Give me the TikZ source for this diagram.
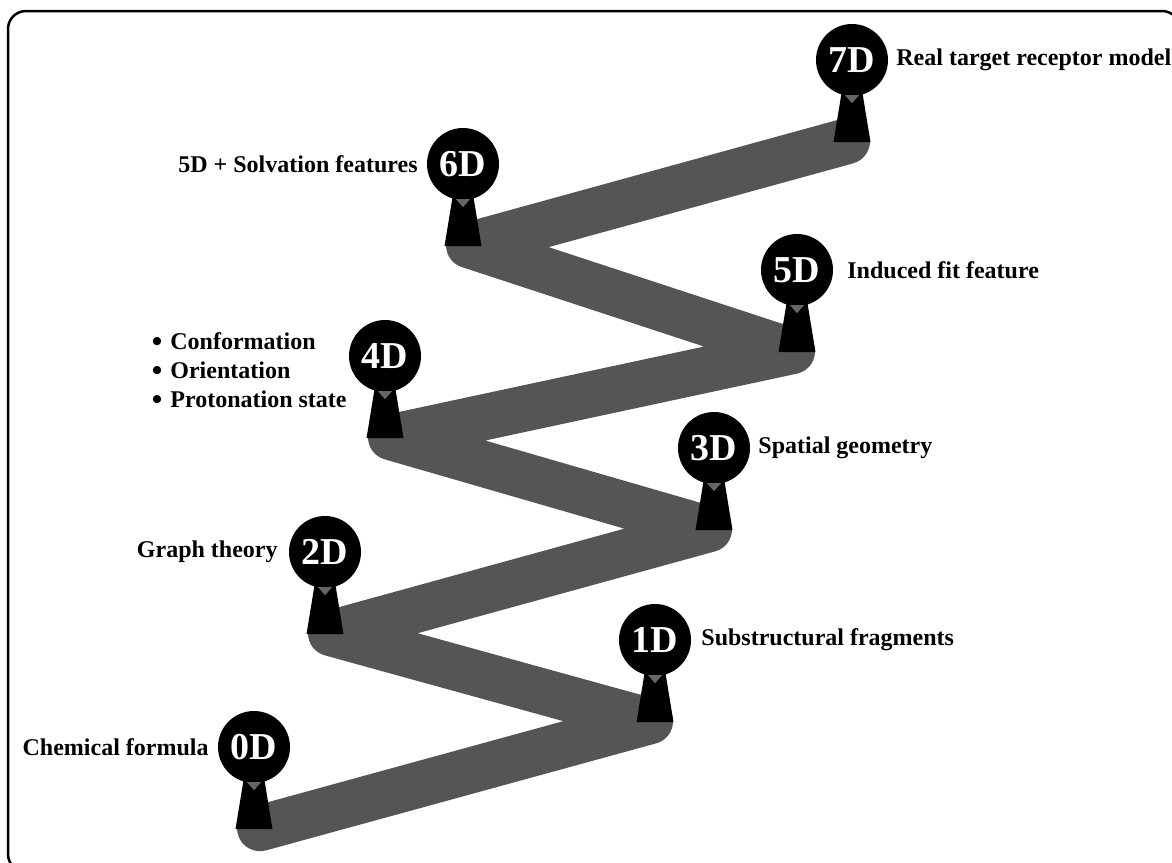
\documentclass[tikz,border=0pt]{standalone}
\usepackage{fontspec}
\setmainfont{Liberation Serif}
\usepackage{xcolor}
\usetikzlibrary{positioning, backgrounds}
\definecolor{bandgray}{RGB}{85,85,85}
\newcommand{\dotitem}{\raisebox{-2pt}{\fontsize{30}{29}\selectfont\textbullet}\hspace{8pt}}

\begin{document}
\begin{tikzpicture}[
    x=1pt, y=-1pt,
    badge/.style={circle, fill=black, minimum size=72pt, inner sep=0pt, text=white, font=\fontsize{38}{38}\selectfont\bfseries},
    stem/.style={fill=black},
    notch/.style={fill=black!60},
    band/.style={draw=bandgray, line width=46pt, line join=round, line cap=round},
    labeltext/.style={inner sep=0pt, font=\fontsize{24}{29}\selectfont\bfseries},
    frame/.style={draw=black, line width=2.5pt, rounded corners=18pt}
]
    \useasboundingbox (0,0) rectangle (1172,862);
    \draw[frame] (8,11) rectangle (1180,872);

    % levels
    \node (d0) [badge] at (254,747) {0D};
    \node (d1) [badge] at (655,640) {1D};
    \node (d2) [badge] at (325,552) {2D};
    \node (d3) [badge] at (714,448) {3D};
    \node (d4) [badge] at (385,356) {4D};
    \node (d5) [badge] at (797,270) {5D};
    \node (d6) [badge] at (463,164) {6D};
    \node (d7) [badge] at (852,60) {7D};

    % keyhole stems
    \fill[stem] (d0.south) ++(-10,-6) -- ++(20,0) -- ++(8.5,52) -- ++(-37,0) -- cycle; \fill[notch] (d0.south) ++(-7,-1) -- ++(14,0) -- ++(-7,8) -- cycle;
    \fill[stem] (d1.south) ++(-10,-6) -- ++(20,0) -- ++(8.5,52) -- ++(-37,0) -- cycle; \fill[notch] (d1.south) ++(-7,-1) -- ++(14,0) -- ++(-7,8) -- cycle;
    \fill[stem] (d2.south) ++(-10,-6) -- ++(20,0) -- ++(8.5,52) -- ++(-37,0) -- cycle; \fill[notch] (d2.south) ++(-7,-1) -- ++(14,0) -- ++(-7,8) -- cycle;
    \fill[stem] (d3.south) ++(-10,-6) -- ++(20,0) -- ++(8.5,52) -- ++(-37,0) -- cycle; \fill[notch] (d3.south) ++(-7,-1) -- ++(14,0) -- ++(-7,8) -- cycle;
    \fill[stem] (d4.south) ++(-10,-6) -- ++(20,0) -- ++(8.5,52) -- ++(-37,0) -- cycle; \fill[notch] (d4.south) ++(-7,-1) -- ++(14,0) -- ++(-7,8) -- cycle;
    \fill[stem] (d5.south) ++(-10,-6) -- ++(20,0) -- ++(8.5,52) -- ++(-37,0) -- cycle; \fill[notch] (d5.south) ++(-7,-1) -- ++(14,0) -- ++(-7,8) -- cycle;
    \fill[stem] (d6.south) ++(-10,-6) -- ++(20,0) -- ++(8.5,52) -- ++(-37,0) -- cycle; \fill[notch] (d6.south) ++(-7,-1) -- ++(14,0) -- ++(-7,8) -- cycle;
    \fill[stem] (d7.south) ++(-10,-6) -- ++(20,0) -- ++(8.5,52) -- ++(-37,0) -- cycle; \fill[notch] (d7.south) ++(-7,-1) -- ++(14,0) -- ++(-7,8) -- cycle;

    % band corners below the stems
    \path (d0.south) ++(6,45) coordinate (b0);
    \path (d1.south) ++(-5,45) coordinate (b1);
    \path (d2.south) ++(6,45) coordinate (b2);
    \path (d3.south) ++(-5,45) coordinate (b3);
    \path (d4.south) ++(6,45) coordinate (b4);
    \path (d5.south) ++(-5,45) coordinate (b5);
    \path (d6.south) ++(6,45) coordinate (b6);
    \path (d7.south) ++(-5,45) coordinate (b7);

    \begin{scope}[on background layer]
        \fill[white] (0,0) rectangle (1172,862);
        \draw[band] (b0) -- (b1) -- (b2) -- (b3) -- (b4) -- (b5) -- (b6) -- (b7);
    \end{scope}

    % labels
    \node (chem) [labeltext, left=9pt of d0] {Chemical formula};
    \node (frag) [labeltext, right=10pt of d1] {Substructural fragments};
    \node (graph) [labeltext, left=11pt of d2] {Graph theory};
    \node (spat) [labeltext, right=8pt of d3] {Spatial geometry};
    \node (conf) [labeltext, align=left, left=2pt of d4, yshift=-15pt] {\dotitem Conformation\\\dotitem Orientation\\\dotitem Protonation state};
    \node (fit) [labeltext, right=14pt of d5] {Induced fit feature};
    \node (solv) [labeltext, left=9pt of d6] {5D + Solvation features};
    \node (recep) [labeltext, right=8pt of d7] {Real target receptor model};
\end{tikzpicture}
\end{document}
